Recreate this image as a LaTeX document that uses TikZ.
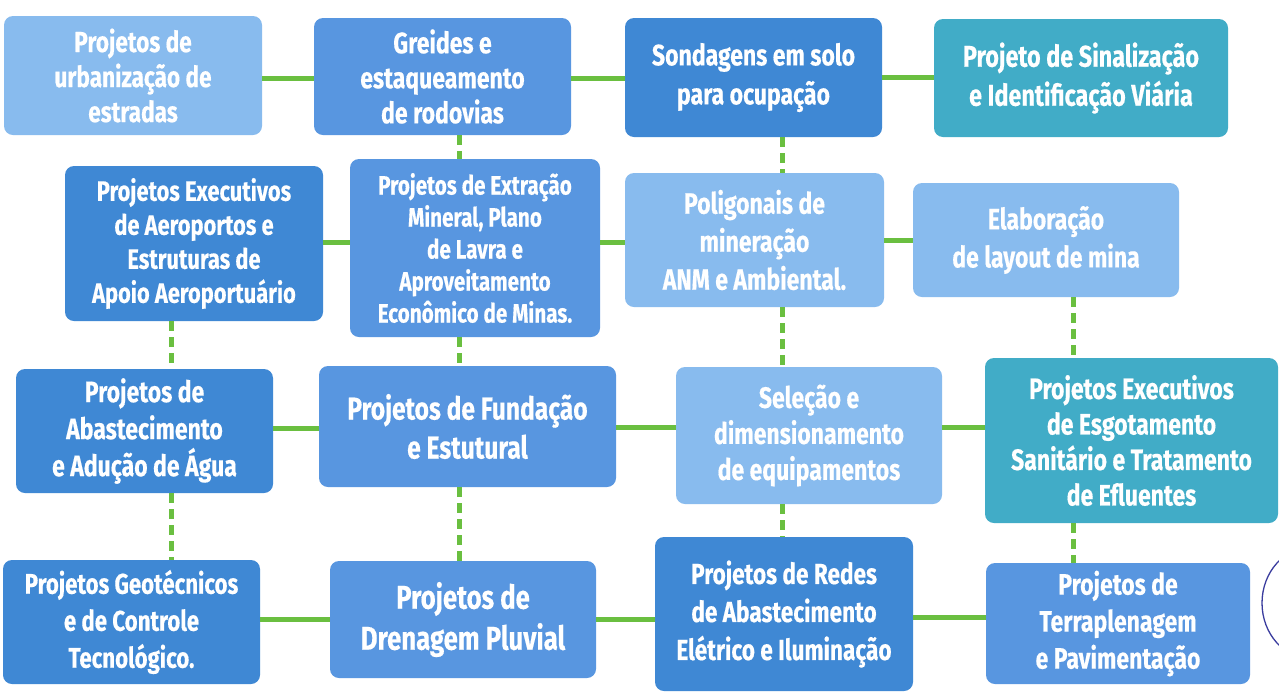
\documentclass[tikz,border=0pt]{standalone}
\usepackage{fontspec}
\setmainfont{Fira Sans}[FakeStretch=0.78, BoldFeatures={FakeBold=0.4}]
\definecolor{cLight}{HTML}{88BBEE}
\definecolor{cMid}{HTML}{5896E0}
\definecolor{cDark}{HTML}{3F88D4}
\definecolor{cTeal}{HTML}{41ACC7}
\definecolor{cGreen}{HTML}{6ABF40}
\definecolor{cPen}{HTML}{3A3C9E}
\tikzset{
  box/.style={rectangle, rounded corners=9pt, text=white, align=center, inner sep=0pt,
    font=\bfseries\fontsize{29.5}{37}\selectfont},
  hconn/.style={draw=cGreen, line width=5pt},
  vconn/.style={draw=cGreen, line width=5pt, dash pattern=on 10pt off 6pt},
}
\begin{document}
\begin{tikzpicture}[x=1pt,y=-1pt]
\useasboundingbox[fill=white] (0,0) rectangle (1279,697);
\node[box, fill=cLight, minimum width=258pt, minimum height=119pt, font=\bfseries\fontsize{29}{35}\selectfont] (A) at (133,75.5) {Projetos de\\urbanização de\\estradas};
\node[box, fill=cMid, minimum width=257pt, minimum height=117pt, font=\bfseries\fontsize{29.5}{35}\selectfont] (B) at (442.5,76.5) {Greides e\\estaqueamento\\de rodovias};
\node[box, fill=cDark, minimum width=257pt, minimum height=119pt, font=\bfseries\fontsize{29.5}{39}\selectfont] (C) at (753.5,77.5) {Sondagens em solo\\para ocupação};
\node[box, fill=cTeal, minimum width=294pt, minimum height=118pt, font=\bfseries\fontsize{30}{39}\selectfont] (D) at (1081,78) {Projeto de Sinalização\\e Identificação Viária};
\node[box, fill=cDark, minimum width=258pt, minimum height=155pt, font=\bfseries\fontsize{28}{34}\selectfont] (E) at (194,243.5) {Projetos Executivos\\de Aeroportos e\\Estruturas de\\Apoio Aeroportuário};
\node[box, fill=cMid, minimum width=250pt, minimum height=178pt, font=\bfseries\fontsize{26.5}{32}\selectfont] (F) at (475,248) {Projetos de Extração\\Mineral, Plano\\de Lavra e\\Aproveitamento\\Econômico de Minas.};
\node[box, fill=cLight, minimum width=259pt, minimum height=134pt, font=\bfseries\fontsize{29.5}{38}\selectfont] (G) at (754.5,240) {Poligonais de\\mineração\\ANM e Ambiental.};
\node[box, fill=cLight, minimum width=266pt, minimum height=114pt, font=\bfseries\fontsize{29.5}{38}\selectfont] (H) at (1046,240) {Elaboração\\de layout de mina};
\node[box, fill=cDark, minimum width=257pt, minimum height=124pt] (I) at (144.5,431) {Projetos de\\Abastecimento\\e Adução de Água};
\node[box, fill=cMid, minimum width=297pt, minimum height=121pt, font=\bfseries\fontsize{31.5}{39}\selectfont] (J) at (467.5,426.5) {Projetos de Fundação\\e Estutural};
\node[box, fill=cLight, minimum width=266pt, minimum height=137pt, font=\bfseries\fontsize{29.5}{36}\selectfont] (K) at (809,435.5) {Seleção e\\dimensionamento\\de equipamentos};
\node[box, fill=cTeal, minimum width=293pt, minimum height=165pt, font=\bfseries\fontsize{29.5}{35.5}\selectfont] (L) at (1131.5,440.5) {Projetos Executivos\\de Esgotamento\\Sanitário e Tratamento\\de Efluentes};
\node[box, fill=cDark, minimum width=257pt, minimum height=124pt, font=\bfseries\fontsize{28.5}{37}\selectfont] (M) at (131.5,622) {Projetos Geotécnicos\\e de Controle\\Tecnológico.};
\node[box, fill=cMid, minimum width=266pt, minimum height=117pt, font=\bfseries\fontsize{33}{41}\selectfont] (N) at (463,619.5) {Projetos de\\Drenagem Pluvial};
\node[box, fill=cDark, minimum width=258pt, minimum height=154pt, font=\bfseries\fontsize{29}{38}\selectfont] (O) at (784,614) {Projetos de Redes\\de Abastecimento\\Elétrico e Iluminação};
\node[box, fill=cMid, minimum width=264pt, minimum height=121pt] (P) at (1118,623.5) {Projetos de\\Terraplenagem\\e Pavimentação};
% horizontal connectors
\draw[hconn] (A.east |- 0,78) -- (B.west |- 0,78);
\draw[hconn] (B.east |- 0,78) -- (C.west |- 0,78);
\draw[hconn] (C.east |- 0,77) -- (D.west |- 0,77);
\draw[hconn] (E.east |- 0,242) -- (F.west |- 0,242);
\draw[hconn] (F.east |- 0,242) -- (G.west |- 0,242);
\draw[hconn] (G.east |- 0,240) -- (H.west |- 0,240);
\draw[hconn] (I.east |- 0,428) -- (J.west |- 0,428);
\draw[hconn] (J.east |- 0,427) -- (K.west |- 0,427);
\draw[hconn] (K.east |- 0,427) -- (L.west |- 0,427);
\draw[hconn] (M.east |- 0,619) -- (N.west |- 0,619);
\draw[hconn] (N.east |- 0,619) -- (O.west |- 0,619);
\draw[hconn] (O.east |- 0,617) -- (P.west |- 0,617);
% vertical connectors
\draw[vconn] (B.south -| 459,0) -- (F.north -| 459,0);
\draw[vconn] (F.south -| 459,0) -- (J.north -| 459,0);
\draw[vconn] (J.south -| 459,0) -- (N.north -| 459,0);
\draw[vconn] (C.south -| 782,0) -- (G.north -| 782,0);
\draw[vconn] (G.south -| 782,0) -- (K.north -| 782,0);
\draw[vconn] (K.south -| 782,0) -- (O.north -| 782,0);
\draw[vconn] (E.south -| 171,0) -- (I.north -| 171,0);
\draw[vconn] (I.south -| 171,0) -- (M.north -| 171,0);
\draw[vconn] (H.south -| 1073,0) -- (L.north -| 1073,0);
\draw[vconn] (L.south -| 1073,0) -- (P.north -| 1073,0);
% pen mark at right edge
\begin{scope}
\clip (0,0) rectangle (1279,697);
\draw[cPen, line width=1.3pt] (1312,603) ellipse [x radius=50, y radius=56];
\end{scope}
\end{tikzpicture}
\end{document}
